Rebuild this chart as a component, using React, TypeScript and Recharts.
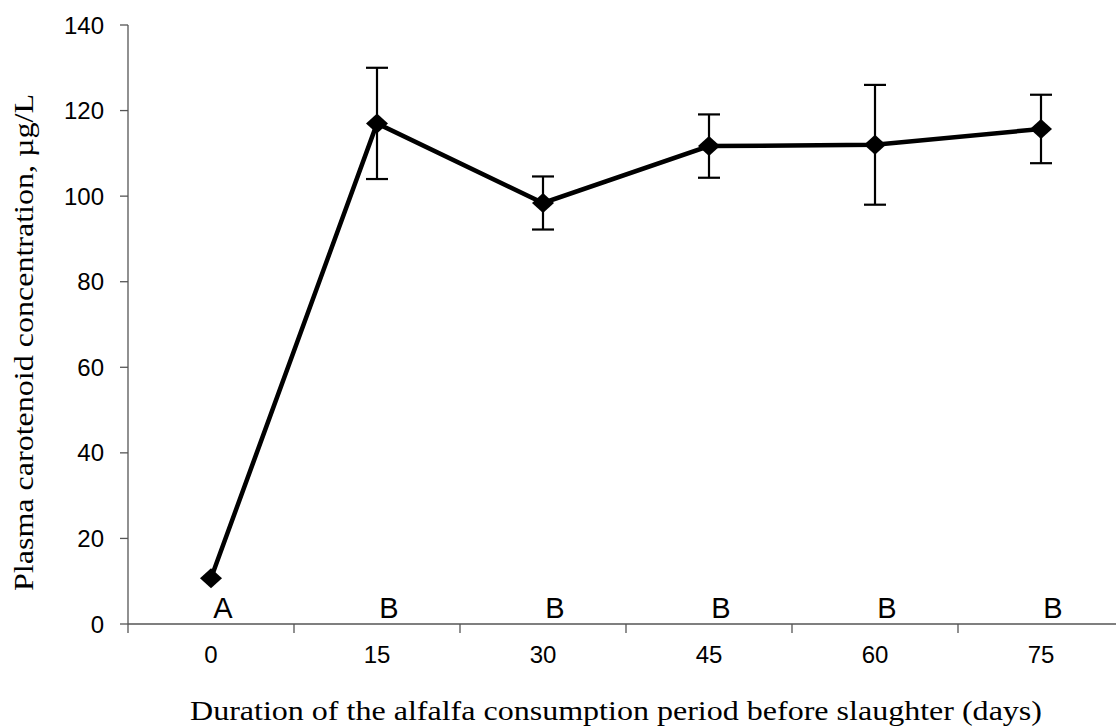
import React from 'react';
import { LineChart, Line, XAxis, YAxis, ErrorBar, LabelList } from 'recharts';

const days = [0, 15, 30, 45, 60, 75];
const carotenoid = [10.7, 117, 98.4, 111.7, 112, 115.7];
const sem = [0, 13, 6.2, 7.4, 14, 8];
const letters = ['A', 'B', 'B', 'B', 'B', 'B'];
const yTicks = [0, 20, 40, 60, 80, 100, 120, 140];
const boundaryTicks = [-7.5, 7.5, 22.5, 37.5, 52.5, 67.5, 82.5];

const data = days.map((d, i) => ({
  day: d,
  value: carotenoid[i],
  err: sem[i],
  base: 0,
  letter: letters[i],
}));

const Diamond = (props: any) => {
  const { cx, cy } = props;
  if (cx == null || cy == null) return null;
  return <path d={`M${cx},${cy - 10} L${cx + 11},${cy} L${cx},${cy + 10} L${cx - 11},${cy} Z`} fill="#000" />;
};

const LetterLabel = (props: any) => {
  const { x, y, value } = props;
  return (
    <text x={x + 12} y={y - 6} textAnchor="middle" fontFamily="'Liberation Sans', Arial, sans-serif" fontSize={29} fill="#000">
      {value}
    </text>
  );
};

const XTitle = (props: any) => {
  const { viewBox } = props;
  const cx = viewBox.x + viewBox.width / 2 - 10;
  return (
    <text x={cx} y={720} textAnchor="middle" textLength={852} lengthAdjust="spacingAndGlyphs" fontFamily="'Liberation Serif', 'Times New Roman', serif" fontSize={27} fill="#000">
      Duration of the alfalfa  consumption period before slaughter (days)
    </text>
  );
};

const YTitle = (props: any) => {
  const { viewBox } = props;
  const cy = viewBox.y + viewBox.height / 2 + 18;
  return (
    <text x={33} y={cy} transform={`rotate(-90, 33, ${cy})`} textAnchor="middle" textLength={497} lengthAdjust="spacingAndGlyphs" fontFamily="'Liberation Serif', 'Times New Roman', serif" fontSize={27} fill="#000">
      Plasma carotenoid concentration, µg/L
    </text>
  );
};

export default function App() {
  const tickStyle = { fontFamily: "'Liberation Sans', Arial, sans-serif", fontSize: 24, fill: '#000' };
  return (
    <div style={{ width: 1116, height: 727, overflow: 'hidden', position: 'absolute', left: 0, top: 0, background: '#fff' }}>
      <LineChart width={1124} height={727} data={data} margin={{ top: 25, right: 0, bottom: 60, left: 0 }}>
        <XAxis
          xAxisId="grid"
          dataKey="day"
          type="number"
          domain={[-7.5, 82.5]}
          ticks={boundaryTicks}
          tickFormatter={() => ''}
          tickSize={9}
          height={1}
          stroke="#555"
          strokeWidth={1.3}
          allowDataOverflow
        />
        <XAxis
          xAxisId="labels"
          dataKey="day"
          type="number"
          domain={[-7.5, 82.5]}
          ticks={days}
          axisLine={false}
          tickLine={false}
          tickSize={0}
          tickMargin={21}
          tick={tickStyle}
          height={42}
          allowDataOverflow
          label={<XTitle />}
        />
        <YAxis
          type="number"
          domain={[0, 140]}
          ticks={yTicks}
          width={128}
          tickSize={8}
          tickMargin={16}
          tick={tickStyle}
          stroke="#555"
          strokeWidth={1.3}
          label={<YTitle />}
        />
        <Line
          xAxisId="grid"
          dataKey="base"
          stroke="none"
          dot={false}
          activeDot={false}
          isAnimationActive={false}
          legendType="none"
        >
          <LabelList dataKey="letter" content={<LetterLabel />} />
        </Line>
        <Line
          xAxisId="grid"
          dataKey="value"
          stroke="#000"
          strokeWidth={4.5}
          dot={<Diamond />}
          activeDot={false}
          isAnimationActive={false}
        >
          <ErrorBar dataKey="err" width={11} stroke="#000" strokeWidth={2.2} direction="y" />
        </Line>
      </LineChart>
    </div>
  );
}
